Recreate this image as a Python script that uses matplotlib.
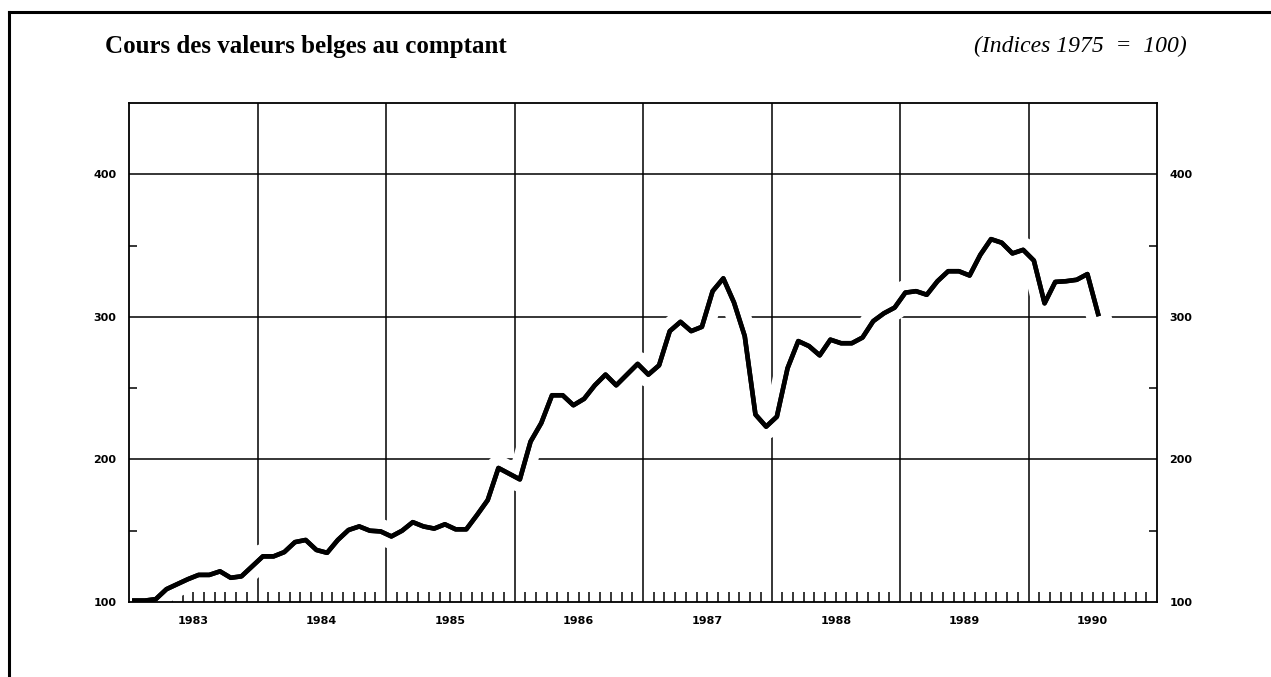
import numpy as np
import matplotlib.pyplot as plt
import matplotlib.patheffects as pe
from matplotlib.lines import Line2D
from matplotlib.ticker import FixedLocator

# monthly index, Jan 1983 - Jul 1990 (1975 = 100)
years = [1983, 1984, 1985, 1986, 1987, 1988, 1989, 1990]
v1983 = [101, 101, 102, 109, 112.5, 116, 119, 119, 121.5, 117, 118, 125]
v1984 = [132, 132, 135, 142, 143.5, 136.5, 134.5, 143.5, 150.5, 153, 150, 149.5]
v1985 = [146, 150, 156, 153, 151.5, 154.5, 151, 151, 161, 171.5, 194, 190]
v1986 = [186, 212.5, 225.5, 245, 245, 238, 242.5, 252, 259.5, 252, 259.5, 267]
v1987 = [259.5, 266, 290, 296.5, 290, 293, 318, 327, 310, 286.5, 231.5, 223]
v1988 = [230, 264, 283, 279.5, 273, 284, 281.5, 281.5, 285.5, 297, 302.5, 306.5]
v1989 = [317, 318, 315.5, 325, 332, 332, 329, 343.5, 354.5, 352, 344.5, 347]
v1990 = [339.5, 309.5, 324.5, 325, 326, 330, 302]

values = v1983 + v1984 + v1985 + v1986 + v1987 + v1988 + v1989 + v1990
x = 1983 + (np.arange(len(values)) + 0.5) / 12

W, H = 1271, 677
fig = plt.figure(figsize=(W / 100, H / 100), dpi=100)
ax = fig.add_axes([129 / W, 75 / H, (1157 - 129) / W, (602 - 103) / H])

# grid drawn by hand so the curve's white halo can cut it
for yv in [200, 300, 400]:
    ax.axhline(yv, color='black', lw=1.1, zorder=1)
for yr in years[1:]:
    ax.axvline(yr, color='black', lw=1.1, zorder=1)

ax.plot(x, values, color='black', lw=3.3, solid_joinstyle='round', zorder=2,
        path_effects=[pe.withStroke(linewidth=18, foreground='white'), pe.Normal()])

ax.set_xlim(1983, 1991)
ax.set_ylim(100, 450)

ax.set_xticks([])
ax.xaxis.set_minor_locator(FixedLocator([1983 + m / 12 for m in range(1, 96) if m % 12 != 0]))
ax.tick_params(axis='x', which='minor', direction='in', length=7, width=1.1, top=False)

ax.set_yticks([100, 200, 300, 400])
ax.set_yticks([150, 250, 350], minor=True)
ax.tick_params(axis='y', which='major', length=0, pad=9, labelsize=8,
               left=True, right=True, labelleft=True, labelright=True)
ax.tick_params(axis='y', which='minor', direction='in', length=6, width=1.1,
               left=True, right=True)
for lab in ax.get_yticklabels():
    lab.set_fontweight('bold')

for s in ax.spines.values():
    s.set_linewidth(1.3)

for yr in years:
    ax.text(yr + 0.5, -0.038, str(yr), transform=ax.get_xaxis_transform(),
            ha='center', va='center', fontsize=8, fontweight='bold')

fig.text(105 / W, 1 - 46 / H, 'Cours des valeurs belges au comptant',
         fontfamily='Liberation Serif', fontweight='bold', fontsize=18,
         ha='left', va='center')
fig.text(1187 / W, 1 - 46 / H, '(Indices 1975  =  100)',
         fontfamily='Liberation Serif', fontstyle='italic', fontsize=17,
         ha='right', va='center')

# page frame
fig.add_artist(Line2D([9 / W, 9 / W], [0, 1 - 12 / H], color='black', lw=2.2))
fig.add_artist(Line2D([9 / W, 1], [1 - 12 / H, 1 - 12 / H], color='black', lw=2.2))

fig.savefig('out.png', dpi=100)
